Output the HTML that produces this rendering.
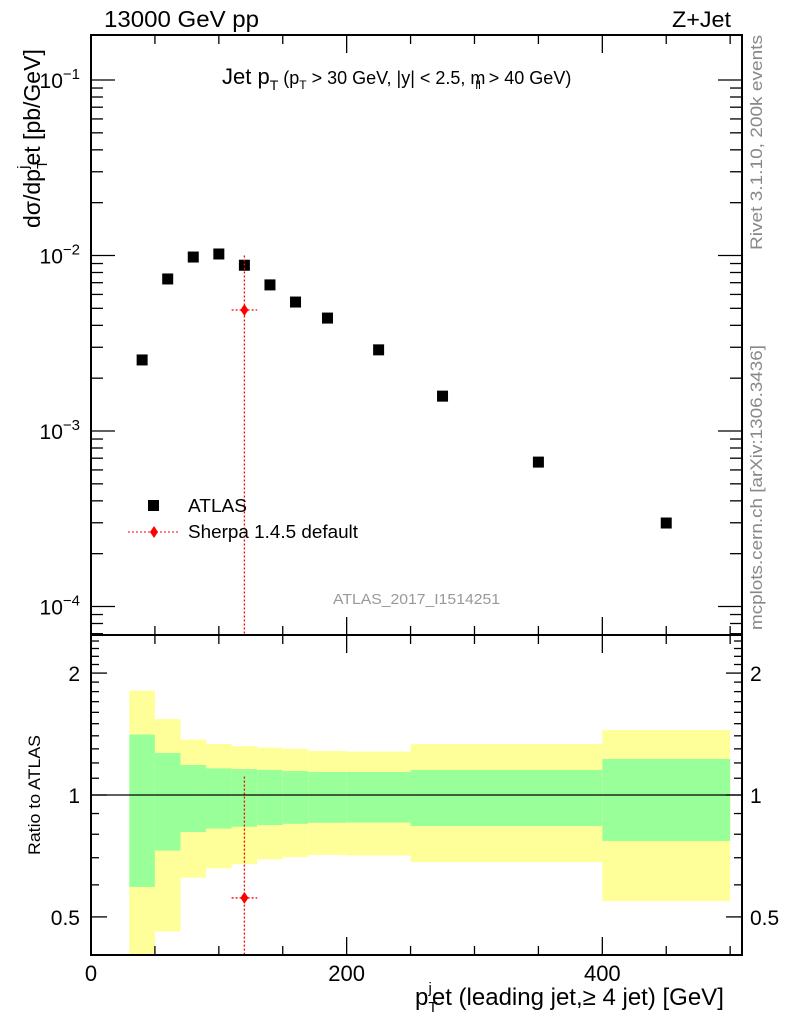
<!DOCTYPE html>
<html><head><meta charset="utf-8"><style>
body{margin:0;background:#fff}
svg{display:block;font-family:"Liberation Sans",Arial,sans-serif}
</style></head><body>
<svg id="c" width="786" height="1024" viewBox="0 0 786 1024" xmlns="http://www.w3.org/2000/svg">
<g id="bands"></g>
<g id="marks"></g>
<g id="axes"></g>
<text x="104" y="27" font-size="23" textLength="155" lengthAdjust="spacingAndGlyphs">13000 GeV pp</text>
<text x="672" y="27" font-size="22" textLength="59" lengthAdjust="spacingAndGlyphs">Z+Jet</text>
<text x="222" y="84" font-size="22">Jet p<tspan font-size="14" dy="6">T</tspan><tspan dy="-6" font-size="18"> (p</tspan><tspan font-size="12" dy="5">T</tspan><tspan dy="-5" font-size="18"> &gt; 30 GeV, |y| &lt; 2.5, m</tspan><tspan font-size="12" dy="5" dx="-10">ll</tspan><tspan dy="-5" font-size="18" dx="3"> &gt; 40 GeV)</tspan></text>
<text transform="translate(40,228) rotate(-90)" font-size="23">dσ/dp<tspan font-size="15" dy="7">T</tspan><tspan font-size="15" dy="-19" dx="-9">j</tspan><tspan dy="12">et [pb/GeV]</tspan></text>
<text transform="translate(762,250) rotate(-90)" font-size="17" fill="#888" textLength="215" lengthAdjust="spacingAndGlyphs">Rivet 3.1.10,  200k events</text>
<text transform="translate(762,630) rotate(-90)" font-size="17" fill="#888" textLength="285" lengthAdjust="spacingAndGlyphs">mcplots.cern.ch [arXiv:1306.3436]</text>
<text x="333" y="604" font-size="15" fill="#999" textLength="167" lengthAdjust="spacingAndGlyphs">ATLAS_2017_I1514251</text>
<rect x="148" y="500" width="11" height="11" fill="#000"/>
<text x="188" y="512" font-size="18" textLength="59" lengthAdjust="spacingAndGlyphs">ATLAS</text>
<line x1="128" y1="532" x2="180" y2="532" stroke="red" stroke-dasharray="2,2"/>
<path d="M154,526 L158,532 L154,538 L150,532Z" fill="red"/>
<text x="188" y="538" font-size="18" textLength="170" lengthAdjust="spacingAndGlyphs">Sherpa 1.4.5 default</text>
<text transform="translate(40,855) rotate(-90)" font-size="17" textLength="120" lengthAdjust="spacingAndGlyphs">Ratio to ATLAS</text>
<text x="415" y="1005" font-size="24">p<tspan font-size="15" dy="7">T</tspan><tspan font-size="15" dy="-19" dx="-9">j</tspan><tspan dy="12">et (leading jet,≥ 4 jet) [GeV]</tspan></text>
</svg>
<script>
const xCenters=[40,60,80,100,120,140,160,185,225,275,350,450];
const atlasVals=[2.54e-3,7.35e-3,9.8e-3,1.02e-2,8.8e-3,6.8e-3,5.43e-3,4.4e-3,2.9e-3,1.58e-3,6.65e-4,2.99e-4];
const binEdges=[30,50,70,90,110,130,150,170,200,250,300,400,500];
const yellowHi=[1.81,1.54,1.37,1.336,1.32,1.309,1.30,1.284,1.28,1.336,1.336,1.447];
const greenHi=[1.41,1.27,1.186,1.164,1.159,1.153,1.146,1.14,1.14,1.153,1.153,1.227];
const greenLo=[0.593,0.729,0.81,0.826,0.835,0.843,0.849,0.854,0.855,0.838,0.838,0.77];
const yellowLo=[0.3,0.46,0.625,0.659,0.675,0.694,0.702,0.711,0.709,0.683,0.683,0.547];
const sherpaX=[120];const sherpaXlo=[110];const sherpaXhi=[130];
const sherpaVals=[4.89e-3];const sherpaHi=[1.0e-2];const sherpaLo=[1e-6];
const sherpaRatio=[0.557];const sherpaRatioHi=[1.11];const sherpaRatioLo=[0.1];
const xTicks=[0,200,400];
const mainTicks=["10^-1","10^-2","10^-3","10^-4"];
const ratioTicks=[0.5,1,2];

const L=91,R=742,T=35,M=635,B=955;
const X=v=>L+v*1.2783;
const Ym=v=>80-(Math.log10(v)+1)*175.5;
const Yr=v=>795-Math.log10(v)*405;
const clampM=y=>Math.max(T,Math.min(M,y));
const clampR=y=>Math.max(M,Math.min(B,y));
const NS="http://www.w3.org/2000/svg";
function mk(par,tag,at){const e=document.createElementNS(NS,tag);for(const k in at)e.setAttribute(k,at[k]);par.appendChild(e);return e;}
const bands=document.getElementById('bands'),marks=document.getElementById('marks'),axes=document.getElementById('axes');
for(let i=0;i<binEdges.length-1;i++){
 const x0=X(binEdges[i]),x1=X(binEdges[i+1]);
 const y1=mk(bands,'rect',{x:x0,y:clampR(Yr(yellowHi[i])),width:x1-x0,height:clampR(Yr(yellowLo[i]))-clampR(Yr(yellowHi[i])),fill:'#ffff99'});
 
 
 const g=mk(bands,'rect',{x:x0,y:Yr(greenHi[i]),width:x1-x0,height:Yr(greenLo[i])-Yr(greenHi[i]),fill:'#99ff99'});
 
 
}
const one=mk(marks,'line',{x1:L,x2:R,y1:Yr(1),y2:Yr(1),stroke:'#000','stroke-width':1.3});


xCenters.forEach((x,i)=>{
 const r=mk(marks,'rect',{x:X(x)-5.5,y:Ym(atlasVals[i])-5.5,width:11,height:11,fill:'#000'});
 
 
});
sherpaX.forEach((x,i)=>{
 const cx=X(x);
 const s={stroke:'red','stroke-width':1.3,'stroke-dasharray':'2,2'};
 const a=mk(marks,'line',Object.assign({x1:cx,x2:cx,y1:clampM(Ym(sherpaHi[i])),y2:clampM(Ym(sherpaLo[i]))},s));
 
 
 const b=mk(marks,'line',Object.assign({x1:X(sherpaXlo[i]),x2:X(sherpaXhi[i]),y1:Ym(sherpaVals[i]),y2:Ym(sherpaVals[i])},s));
 
 
 const y=Ym(sherpaVals[i]);
 const p=mk(marks,'path',{d:`M${cx},${y-6}L${cx+4},${y}L${cx},${y+6}L${cx-4},${y}Z`,fill:'red'});
 
 
 const c=mk(marks,'line',Object.assign({x1:cx,x2:cx,y1:clampR(Yr(sherpaRatioHi[i])),y2:clampR(Yr(sherpaRatioLo[i]))},s));
 
 
 const d=mk(marks,'line',Object.assign({x1:X(sherpaXlo[i]),x2:X(sherpaXhi[i]),y1:Yr(sherpaRatio[i]),y2:Yr(sherpaRatio[i])},s));
 
 
 const yr=Yr(sherpaRatio[i]);
 const q=mk(marks,'path',{d:`M${cx},${yr-6}L${cx+4},${yr}L${cx},${yr+6}L${cx-4},${yr}Z`,fill:'red'});
 
 
});
[[T,M],[M,B]].forEach(([t,b])=>{
 const f=mk(axes,'rect',{x:L,y:t,width:R-L,height:b-t,fill:'none',stroke:'#000','stroke-width':2});
 
 
});
const ln=(x1,y1,x2,y2)=>mk(axes,'line',{x1,y1,x2,y2,stroke:'#000','stroke-width':1.3});
for(let v=0;v<=500;v+=50){const x=X(v),len=v%200==0?18:9;
 [T,M].forEach(t=>ln(x,t,x,t+len)); [M,B].forEach(b=>ln(x,b,x,b-len));}
xTicks.forEach(v=>{const t=mk(axes,'text',{x:X(v),y:981,'font-size':22,'text-anchor':'middle'});t.textContent=v;
 
 });
for(let e=-5;e<=-1;e++){for(let m=1;m<10;m++){const y=Ym(m*Math.pow(10,e));if(y<T||y>M)continue;const len=m==1?24:12;ln(L,y,L+len,y);ln(R,y,R-len,y);}}
mainTicks.forEach(s=>{const e=+s.split('^')[1];const y=Ym(Math.pow(10,e));
 const t=mk(axes,'text',{x:80,y:y+8,'font-size':21,'text-anchor':'end'});
 t.innerHTML='10<tspan font-size="15" dy="-9">'+(e<0?'−'+(-e):e)+'</tspan>';
 
 });
for(let v=0.4;v<=2.5;v+=0.1){const vv=Math.round(v*10)/10;const y=Yr(vv);if(y<M||y>B)continue;const maj=(vv==0.5||vv==1||vv==2);const len=maj?16:8;ln(L,y,L+len,y);ln(R,y,R-len,y);}
ratioTicks.forEach(v=>{const y=Yr(v);
 const t=mk(axes,'text',{x:80,y:y+8,'font-size':21,'text-anchor':'end'});t.textContent=v;
 
 
 const t2=mk(axes,'text',{x:750,y:y+8,'font-size':21});t2.textContent=v;
 
 });
</script>
</body></html>
